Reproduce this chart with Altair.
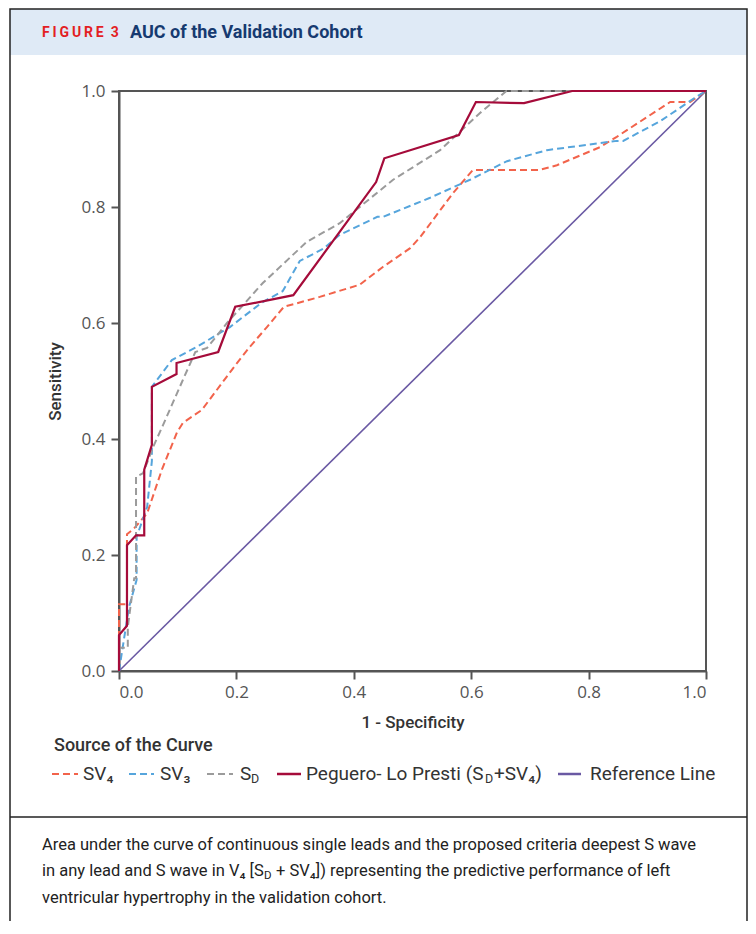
import altair as alt
import pandas as pd

# ---------------- data ----------------
ticks = [0.0, 0.2, 0.4, 0.6, 0.8, 1.0]

ref_x = [0.0, 1.0]
ref_y = [0.0, 1.0]

sv4_x = [0, 0, 0.0136, 0.0136, 0.025, 0.048, 0.073, 0.099, 0.109, 0.141, 0.201, 0.223, 0.252, 0.281,
         0.303, 0.342, 0.41, 0.45, 0.496, 0.513, 0.569, 0.603, 0.717, 0.746, 0.819, 0.848, 0.939, 0.973, 1.0]
sv4_y = [0, 0.115, 0.115, 0.236, 0.245, 0.272, 0.347, 0.412, 0.428, 0.45, 0.531, 0.559, 0.593, 0.628,
         0.634, 0.645, 0.666, 0.697, 0.729, 0.748, 0.824, 0.864, 0.864, 0.872, 0.903, 0.921, 0.981, 0.981, 1.0]

sv3_x = [0, 0.017, 0.03, 0.03, 0.048, 0.056, 0.056, 0.09, 0.133, 0.172, 0.189, 0.243, 0.279, 0.308,
         0.348, 0.376, 0.44, 0.45, 0.53, 0.598, 0.661, 0.729, 0.848, 0.859, 0.922, 0.985, 1.0]
sv3_y = [0, 0.11, 0.157, 0.231, 0.283, 0.362, 0.49, 0.536, 0.559, 0.583, 0.593, 0.635, 0.655, 0.707,
         0.728, 0.752, 0.783, 0.783, 0.816, 0.847, 0.879, 0.898, 0.914, 0.914, 0.948, 0.991, 1.0]

sd_x = [0, 0, 0.015, 0.015, 0.026, 0.029, 0.029, 0.041, 0.058, 0.075, 0.108, 0.13, 0.15, 0.184,
        0.245, 0.32, 0.376, 0.467, 0.547, 0.615, 0.66, 1.0]
sd_y = [0, 0.04, 0.04, 0.076, 0.16, 0.16, 0.335, 0.341, 0.386, 0.424, 0.5, 0.55, 0.557, 0.6,
        0.669, 0.74, 0.772, 0.847, 0.898, 0.962, 1.0, 1.0]

peg_x = [0, 0, 0.0136, 0.0136, 0.029, 0.043, 0.043, 0.056, 0.056, 0.098, 0.098, 0.169, 0.198, 0.297,
         0.438, 0.452, 0.579, 0.608, 0.69, 0.772, 1.0]
peg_y = [0, 0.062, 0.078, 0.217, 0.234, 0.234, 0.347, 0.39, 0.49, 0.512, 0.531, 0.55, 0.628, 0.648,
         0.843, 0.884, 0.924, 0.981, 0.979, 1.0, 1.0]

caption_lines = [
    "Area under the curve of continuous single leads and the proposed criteria deepest S wave",
    "ventricular hypertrophy in the validation cohort.",
]

# ---------------- layout ----------------
PX0, PY0 = 119, 91          # page position of plot origin
W, H = 587, 580
SANS = "Roboto"
TICKFONT = "Open Sans"

one = pd.DataFrame({"k": [0]})


def X(v):
    return alt.value(v - PX0)


def Y(v):
    return alt.value(v - PY0)


def txt(s, x, y, size, color="#222", weight="normal", align="left", font=SANS):
    return alt.Chart(one).mark_text(
        text=s, align=align, baseline="middle", fontSize=size, font=font,
        fontWeight=weight, color=color
    ).encode(x=X(x), y=Y(y))


def hline(x1, x2, y, color, width, dash=None):
    kw = dict(color=color, strokeWidth=width)
    if dash:
        kw["strokeDash"] = dash
    return alt.Chart(one).mark_rule(**kw).encode(x=X(x1), x2=X(x2), y=Y(y))


xenc = alt.X("x:Q", scale=alt.Scale(domain=[0, 1], nice=False),
             axis=alt.Axis(values=ticks, format=".1f", title="1 - Specificity"))
yenc = alt.Y("y:Q", scale=alt.Scale(domain=[0, 1], nice=False),
             axis=alt.Axis(values=ticks, format=".1f", title="Sensitivity"))


def curve(xs, ys, color, width, dash=None):
    d = pd.DataFrame({"x": xs, "y": ys, "i": list(range(len(xs)))})
    kw = dict(color=color, strokeWidth=width, strokeJoin="miter")
    if dash:
        kw["strokeDash"] = dash
    return alt.Chart(d).mark_line(**kw).encode(x=xenc, y=yenc, order="i:Q")


RED, BLUE, GRAY, CRIM, PURP = "#f2634b", "#56a5dc", "#9b9b9b", "#a50b3a", "#6a59a3"
DASH = [7, 4]
RIGHT = 747

band = alt.Chart(one).mark_rect(color="#dfeaf6").encode(x=X(10), x2=X(RIGHT), y=Y(9), y2=Y(55))
frame = alt.Chart(one).mark_rect(fillOpacity=0, stroke="#222", strokeWidth=1.5).encode(
    x=X(10), x2=X(RIGHT), y=Y(9), y2=Y(990))
sep = hline(10, RIGHT, 817, "#222", 1.5)

fig_label = txt("\u2009".join("FIGURE") + "\u2002" + "3", 42, 33, 14, color="#e31e24", weight="bold")
fig_title = txt("AUC of the Validation Cohort", 130, 33, 18, color="#163a70", weight="bold")

leg_title = txt("Source of the Curve", 54, 746, 18, color="#333", weight=500)
LY = 774
LS = 19
SUB = 12.5
legend = [
    hline(52, 78, LY, RED, 2, DASH), txt("SV\u2084", 83, LY, LS, "#333"),
    hline(129, 154, LY, BLUE, 2, DASH), txt("SV\u2083", 160, LY, LS, "#333"),
    hline(207, 233, LY, GRAY, 2, DASH), txt("S", 240, LY, LS, "#333"), txt("D", 251, LY + 5, SUB, "#333"),
    hline(277, 301, LY, CRIM, 2.5), txt("Peguero- Lo Presti (S", 306, LY, LS, "#333"),
    txt("D", 485, LY + 5, SUB, "#333"), txt("+SV\u2084)", 494, LY, LS, "#333"),
    hline(558, 581, LY, PURP, 2.5), txt("Reference Line", 590, LY, LS, "#333"),
]

CS = 16.5
caption = [
    txt(caption_lines[0], 42, 845, CS),
    txt("in any lead and S wave in V\u2084 [S", 42, 871, CS),
    txt("D", 264, 876, 11.5),
    txt("+ SV\u2084]) representing the predictive performance of left", 276, 871, CS),
    txt(caption_lines[1], 42, 898, CS),
]

curves = [
    curve(ref_x, ref_y, PURP, 1.6),
    curve(sv4_x, sv4_y, RED, 2, DASH),
    curve(sv3_x, sv3_y, BLUE, 2, DASH),
    curve(sd_x, sd_y, GRAY, 2, DASH),
    curve(peg_x, peg_y, CRIM, 2.2),
]

chart = alt.layer(
    band, frame, sep, fig_label, fig_title, leg_title, *legend, *caption, *curves
).properties(
    width=W, height=H,
    padding={"left": 111, "top": 83, "right": 42, "bottom": 250},
    autosize=alt.AutoSizeParams(type="none"),
    background="white",
).configure_view(
    stroke="#555", strokeWidth=2
).configure_axis(
    grid=False, domainColor="#555", domainWidth=2, tickColor="#555", tickWidth=2, tickSize=8,
    labelFont=TICKFONT, labelFontSize=17, labelColor="#555",
    titleFont=SANS, titleFontSize=17, titleColor="#333", titleFontWeight=500,
).configure_axisX(
    labelPadding=5, titlePadding=14
).configure_axisY(
    labelPadding=6, titlePadding=17
)

chart.save("out.html", embed_options={"renderer": "svg", "actions": False})
